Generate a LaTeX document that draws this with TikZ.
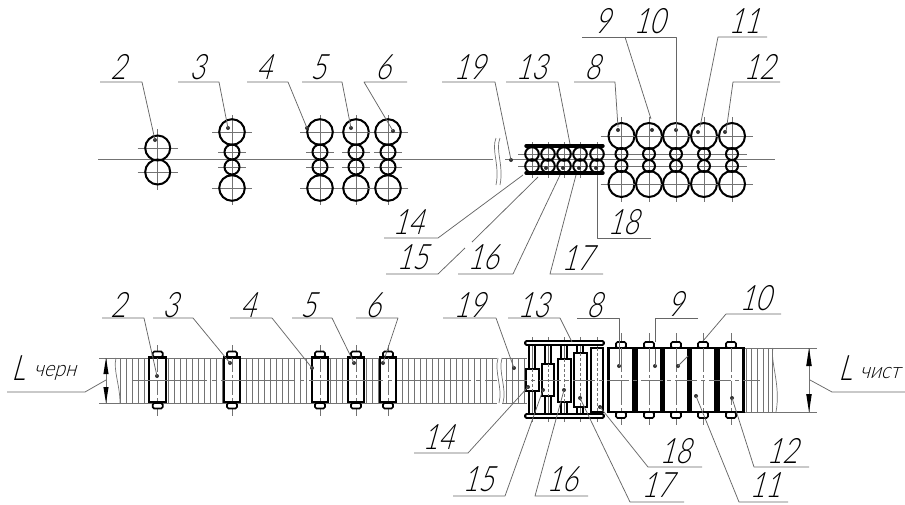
\documentclass[tikz,border=0pt]{standalone}
\usepackage{fontspec}
\newfontfamily\gost[FakeSlant=0.28,FakeStretch=0.76]{Lato Light}
\newfontfamily\gostsub[FakeSlant=0.28,FakeStretch=0.9]{Lato Light}
\tikzset{
  thin axis/.style={draw=black!55,line width=0.7pt},
  leaderline/.style={draw=black!60,line width=0.75pt,line join=round},
  rollring/.style={draw=black,line width=2pt},
  rollbody/.style={draw=black,fill=white,line width=2.1pt},
  rollneck/.style={draw=black,fill=white,line width=1.7pt,rounded corners=1.5pt},
  railbar/.style={draw=black,fill=white,line width=1.8pt,rounded corners=1.5pt},
  breakline/.style={draw=black!55,line width=0.7pt},
  poslabel/.style={font=\gost\fontsize{35}{35}\selectfont,text=black,inner sep=0pt},
  sublabel/.style={font=\gostsub\fontsize{22}{22}\selectfont,text=black,inner sep=0pt},
}
\newcommand{\spot}[1]{\fill[black!80] #1 circle (2pt);}
\newcommand{\bigroll}[3]{% x y r
  \draw[thin axis] (#1-20,#2) -- (#1+20,#2);
  \draw[rollring] (#1,#2) circle (#3pt);}
\newcommand{\smallroll}[3]{%
  \draw[thin axis] (#1-14,#2) -- (#1+14,#2);
  \draw[rollring] (#1,#2) circle (#3pt);}
\begin{document}
\begin{tikzpicture}[x=1pt,y=-1pt]
\useasboundingbox (0,0) rectangle (905,504);
% ---------- TOP VIEW ----------
\draw[thin axis] (98,159.5) -- (493,159.5);
\draw[thin axis] (505,159.5) -- (775,159.5);
\draw[breakline] (496,138) .. controls (491,150) and (500,165) .. (496,185);
\draw[breakline] (500,138) .. controls (495,150) and (504,165) .. (500,185);
% stand 2
\draw[thin axis] (157.7,129) -- (157.7,190);
\bigroll{157.7}{148}{12.5}
\bigroll{157.7}{172}{12.5}
% stands 3-6
\foreach \x in {232,320,356,388}{
  \draw[thin axis] (\x,115) -- (\x,205);
  \bigroll{\x}{132}{12.8}
  \smallroll{\x}{152}{7.5}
  \smallroll{\x}{167}{7.5}
  \bigroll{\x}{188}{12.8}
}
% intermediate group
\draw[thin axis] (518,154) -- (747,154);
\draw[thin axis] (518,166) -- (747,166);
\foreach \x in {621.5,649,676,704,732}{
  \draw[thin axis] (\x,117) -- (\x,202);
  \draw[thin axis] (\x-21,136) -- (\x+21,136);
  \draw[thin axis] (\x-21,184) -- (\x+21,184);
  \draw[rollring] (\x,136) circle (13pt);
  \draw[rollring] (\x,154) circle (6pt);
  \draw[rollring] (\x,166) circle (6pt);
  \draw[rollring] (\x,184) circle (13pt);
}
\foreach \x in {532,548,564,580,597}{
  \draw[thin axis] (\x,142) -- (\x,178);
  \draw[rollring] (\x,154) circle (6.8pt);
  \draw[rollring] (\x,166) circle (6.8pt);
}
\draw[black,line width=3.4pt,line cap=round] (526,146) -- (603,146);
\draw[black,line width=3.4pt,line cap=round] (526,173) -- (603,173);
% top dots
\foreach \p in {(155,140),(228,128),(307,128),(351,128),(393,131),(511,160),
  (618,130),(652,130),(676,130),(698,132),(725,132),(546,168),(563,168),(579,168),(596,168)}{\spot{\p}}
% top leaders
\draw[leaderline] (100,82) -- (142,82) -- (155,140);
\draw[leaderline] (178,82) -- (219,82) -- (228,128);
\draw[leaderline] (247,82) -- (288,82) -- (307,128);
\draw[leaderline] (302,82) -- (342,82) -- (351,128);
\draw[leaderline] (407,82) -- (364,82) -- (393,131);
\draw[leaderline] (442,82) -- (495,82) -- (511,160);
\draw[leaderline] (506,82) -- (558,82) -- (570,144);
\draw[leaderline] (574,82) -- (615,82) -- (618,127);
\draw[leaderline] (582,37) -- (676,37) -- (676,130);
\draw[leaderline] (625,37) -- (651,119);
\draw[leaderline] (767,37) -- (718,37) -- (700,127);
\draw[leaderline] (780,82) -- (733,82) -- (726,132);
\draw[leaderline] (384,238) -- (438,238) -- (523,175);
\draw[leaderline] (386,274) -- (438,274) -- (465,248);
\draw[leaderline] (472,242) -- (538,177);
\draw[leaderline] (458,274) -- (513,274) -- (560,175);
\draw[leaderline] (603,274) -- (550,274) -- (576,175);
\draw[leaderline] (597,177) -- (597,238) -- (651,238);
% top labels
\node[poslabel] (a2) at (118,67) {2};
\node[poslabel] (a3) at (197,67) {3};
\node[poslabel] (a4) at (264,67) {4};
\node[poslabel] (a5) at (318,67) {5};
\node[poslabel] (a6) at (383,67) {6};
\node[poslabel] (a19) at (469,67) {19};
\node[poslabel] (a13) at (531,67) {13};
\node[poslabel] (a8) at (592,67) {8};
\node[poslabel] (a9) at (602,21) {9};
\node[poslabel] (a10) at (649,21) {10};
\node[poslabel] (a11) at (744,21) {11};
\node[poslabel] (a12) at (759,67) {12};
\node[poslabel] (a14) at (408,222) {14};
\node[poslabel] (a15) at (412,257) {15};
\node[poslabel] (a16) at (483,257) {16};
\node[poslabel] (a17) at (577,258) {17};
\node[poslabel] (a18) at (623,222) {18};
% ---------- BOTTOM VIEW ----------
\foreach \x in {120.5,126.5,...,497}{\draw[thin axis] (\x,358) -- (\x,403);}
\foreach \x in {506,512,...,527}{\draw[thin axis] (\x,358) -- (\x,403);}
\foreach \x in {746,751,757,763,768,772}{\draw[thin axis] (\x,348) -- (\x,412);}
\draw[thin axis] (99,358) -- (497,358);
\draw[thin axis] (99,403) -- (497,403);
\draw[thin axis] (502,358) -- (527,358);
\draw[thin axis] (502,403) -- (527,403);
\draw[thin axis] (744,348) -- (817,348);
\draw[thin axis] (744,412) -- (817,412);
\draw[breakline] (116,358) .. controls (113,370) and (120,385) .. (120,403);
\draw[breakline] (498,358) .. controls (494,372) and (503,388) .. (499,403);
\draw[breakline] (502,358) .. controls (498,372) and (507,388) .. (503,403);
\draw[breakline] (773,348) .. controls (770,362) and (781,385) .. (776,412);
% roughing stands
\foreach \x in {157.7,232,320,356,388}{
  \draw[thin axis] (\x,345) -- (\x,416);
  \draw[rollneck] (\x-5,357) rectangle (\x+5,351.5);
  \draw[rollneck] (\x-5,403) rectangle (\x+5,408.5);
  \draw[rollbody] (\x-8.3,357.5) rectangle (\x+8.3,402);
  \draw[thin axis,dash pattern=on 14pt off 3pt on 3pt off 3pt] (\x,358) -- (\x,402);
}
% finishing stands
\foreach \x in {621,649,676,703,731}{
  \draw[thin axis] (\x,333) -- (\x,425);
  \draw[rollneck] (\x-5,348) rectangle (\x+5,342);
  \draw[rollneck] (\x-5,412) rectangle (\x+5,418);
  \draw[rollbody] (\x-12.5,348) rectangle (\x+12.5,412);
  \draw[thin axis,dash pattern=on 24pt off 3pt on 3pt off 3pt] (\x,348) -- (\x,412);
}
% intermediate group necks and bodies
\foreach \x/\a/\b in {532/369/391,548/364/396,564/359/402,580/353/407}{
  \draw[thin axis] (\x,337) -- (\x,422);
  \draw[black,line width=1.8pt] (\x-3,343) -- (\x-3,\a) (\x+3,343) -- (\x+3,\a);
  \draw[black,line width=1.8pt] (\x-3,\b) -- (\x-3,416) (\x+3,\b) -- (\x+3,416);
}
\draw[thin axis] (597,337) -- (597,422);
\draw[railbar] (525,341) rectangle (604,345);
\draw[railbar] (525,414) rectangle (604,418);
\draw[rollbody] (526,369) rectangle (539,391);
\draw[rollbody] (542,364) rectangle (554,396);
\draw[rollbody] (558,359) rectangle (571,402);
\draw[rollbody] (574,353) rectangle (587,407);
\draw[rollbody,line width=1.6pt] (591,348) rectangle (603,412);
\foreach \x/\a/\b in {532/369/391,548/364/396,564/359/402,580/353/407,597/348/412}{
  \draw[thin axis,densely dashed] (\x,\a) -- (\x,\b);
}
% centre line
\draw[thin axis,dash pattern=on 74pt off 5pt on 4pt off 5pt] (133,380) -- (497,380);
\draw[thin axis,dash pattern=on 22pt off 4pt on 4pt off 4pt] (505,380) -- (760,380);
% bottom dots
\foreach \p in {(157,376),(230,363),(312,368),(354,363),(383,363),(514,368),(528,387),(543,390),(564,390),
  (580,398),(600,407),(619,366),(655,366),(678,366),(696,396),(732,398)}{\spot{\p}}
% bottom leaders
\draw[leaderline] (102,318) -- (144,318) -- (157,376);
\draw[leaderline] (153,318) -- (193,318) -- (230,363);
\draw[leaderline] (230,318) -- (272,318) -- (312,368);
\draw[leaderline] (292,318) -- (332,318) -- (354,363);
\draw[leaderline] (356,318) -- (398,318) -- (383,363);
\draw[leaderline] (443,318) -- (496,318) -- (514,368);
\draw[leaderline] (508,318) -- (560,318) -- (572,342);
\draw[leaderline] (577,318) -- (619,318) -- (619,366);
\draw[leaderline] (698,318) -- (655,318) -- (655,342);
\draw[leaderline] (655,349) -- (655,366);
\draw[leaderline] (781,314) -- (726,314) -- (703,341);
\draw[leaderline] (688,356) -- (678,366);
\draw[leaderline] (788,502) -- (739,502) -- (696,396);
\draw[leaderline] (809,467) -- (754,467) -- (732,398);
\draw[leaderline] (702,467) -- (648,467) -- (600,407);
\draw[leaderline] (684,502) -- (630,502) -- (580,398);
\draw[leaderline] (588,496) -- (535,496) -- (564,390);
\draw[leaderline] (453,496) -- (505,496) -- (543,390);
\draw[leaderline] (414,453) -- (468,453) -- (528,387);
\draw[leaderline] (7,392) -- (85,392) -- (106,380);
\draw[leaderline] (905,392) -- (832,392) -- (810,380);
% dimensions
\draw[thin axis,line width=0.8pt] (106,358) -- (106,403);
\fill[black] (106,358) -- (108.6,374) -- (103.4,374) -- cycle;
\fill[black] (106,403) -- (108.6,387) -- (103.4,387) -- cycle;
\draw[thin axis,line width=0.8pt] (809,348) -- (809,412);
\fill[black] (809,348) -- (811.8,366) -- (806.2,366) -- cycle;
\fill[black] (809,412) -- (811.8,394) -- (806.2,394) -- cycle;
% bottom labels
\node[poslabel] (b2) at (118,305) {2};
\node[poslabel] (b3) at (170,305) {3};
\node[poslabel] (b4) at (248,305) {4};
\node[poslabel] (b5) at (308,305) {5};
\node[poslabel] (b6) at (373,305) {6};
\node[poslabel] (b19) at (469,305) {19};
\node[poslabel] (b13) at (533,305) {13};
\node[poslabel] (b8) at (594,305) {8};
\node[poslabel] (b9) at (675,304) {9};
\node[poslabel] (b10) at (755,298) {10};
\node[poslabel] (b11) at (765,485) {11};
\node[poslabel] (b12) at (782,451) {12};
\node[poslabel] (b14) at (438,437) {14};
\node[poslabel] (b15) at (478,479) {15};
\node[poslabel] (b16) at (562,479) {16};
\node[poslabel] (b17) at (657,485) {17};
\node[poslabel] (b18) at (675,451) {18};
\node[poslabel] (l1) at (18,368) {L};
\node[sublabel] (s1) at (55,373) {черн};
\node[poslabel] (l2) at (845,368) {L};
\node[sublabel] (s2) at (880,373) {чист};
\end{tikzpicture}
\end{document}
